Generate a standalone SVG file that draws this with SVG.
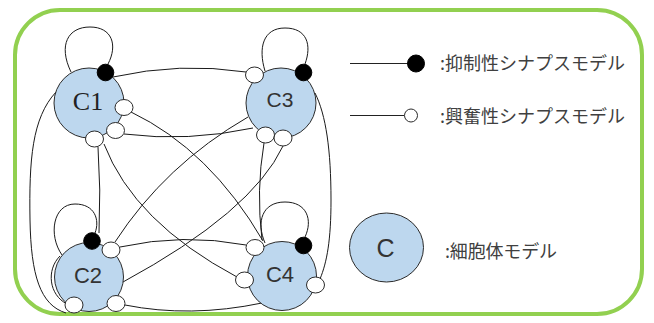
<svg xmlns="http://www.w3.org/2000/svg" width="654" height="323" viewBox="0 0 654 323">
  <style>
    .frame { fill: #ffffff; stroke: #92d050; stroke-width: 4; }
    .wire { fill: none; stroke: #1a1a1a; stroke-width: 1; }
    .soma { fill: #bdd7ee; stroke: #2b2b2b; stroke-width: 1; }
    .exc { fill: #ffffff; stroke: #2b2b2b; stroke-width: 1; }
    .inh { fill: #000000; stroke: #000000; stroke-width: 1; }
    .lbl { font-family: "Liberation Sans", Arial, sans-serif; fill: #333333; text-anchor: middle; }
    .lbl-serif { font-family: "Liberation Serif", "Times New Roman", serif; fill: #222222; text-anchor: middle; }
    .note { font-family: "Noto Sans CJK JP", "Noto Sans", sans-serif; font-size: 18px; fill: #404040; }
    .key { stroke: #222222; stroke-width: 1.2; fill: none; }
  </style>

  <rect class="frame" x="15" y="10" width="627" height="304" rx="45" ry="45"/>

  <!-- connections between cells, drawn beneath the cell bodies -->
  <g id="connectors">
    <!-- self loops (onto each inhibitory synapse) -->
    <path class="wire" d="M71,72 C58,45 68,27 90,27 C112,27 118,45 108,64"/>
    <path class="wire" d="M265,71 C258,48 263,28 285,28 C307,28 312,45 305,64"/>
    <path class="wire" d="M62,255 C48,235 53,204 75,204 C95,204 100,220 95,233"/>
    <path class="wire" d="M265,243 C256,222 262,202 285,202 C307,202 313,220 305,237"/>

    <!-- C1 -> C3 (top arc) -->
    <path class="wire" d="M113,77 Q180,62 246,72"/>
    <!-- C3 -> C1 (lower arc) -->
    <path class="wire" d="M124,134 Q188,142 253,128"/>
    <!-- C2 -> C4 (upper arc) -->
    <path class="wire" d="M120,247 Q183,233 246,245"/>
    <!-- C4 -> C2 (bottom arc) -->
    <path class="wire" d="M125,305 Q190,318 262,303"/>
    <!-- C2 -> C1 (vertical) -->
    <path class="wire" d="M98,147 Q101,190 99,233"/>
    <!-- C4 -> C3 (vertical) -->
    <path class="wire" d="M264,143 Q256,190 262,240"/>
    <!-- diagonals -->
    <path class="wire" d="M131,112 Q210,150 263,241"/>
    <path class="wire" d="M104,144 Q134,222 237,277"/>
    <path class="wire" d="M248,117 Q165,165 115,242"/>
    <path class="wire" d="M123,282 Q252,212 283,146"/>
    <!-- outer left: C1 -> C2 -->
    <path class="wire" d="M56,92 C32,118 29,160 30,220 C31,275 40,305 66,313"/>
    <path class="wire" d="M60,256 C46,270 49,295 67,304"/>
    <!-- outer right: C3 -> C4 -->
    <path class="wire" d="M315,93 C326,115 331,150 331,200 C331,240 327,262 320,279"/>
  </g>

  <g id="C1">
    <circle class="soma" cx="89" cy="103" r="35"/>
    <text class="lbl-serif" x="88" y="110" font-size="26">C1</text>
    <circle class="inh" cx="105.5" cy="72.5" r="8.3"/>
    <ellipse class="exc" cx="124" cy="107.5" rx="9" ry="8"/>
    <ellipse class="exc" cx="115.5" cy="130.5" rx="9" ry="8"/>
    <ellipse class="exc" cx="94.5" cy="139" rx="9" ry="8"/>
  </g>

  <g id="C3">
    <circle class="soma" cx="281" cy="103" r="35"/>
    <text class="lbl" x="280" y="107" font-size="21">C3</text>
    <ellipse class="exc" cx="254.5" cy="75" rx="9" ry="8"/>
    <circle class="inh" cx="303.5" cy="72.5" r="8.3"/>
    <ellipse class="exc" cx="265.5" cy="135" rx="9" ry="8"/>
    <ellipse class="exc" cx="283" cy="138" rx="9" ry="8"/>
  </g>

  <g id="C2">
    <circle class="soma" cx="89" cy="277" r="34.5"/>
    <text class="lbl" x="88" y="283" font-size="22">C2</text>
    <circle class="inh" cx="92" cy="241" r="8.3"/>
    <ellipse class="exc" cx="111" cy="250" rx="9" ry="8"/>
    <ellipse class="exc" cx="74" cy="305" rx="9" ry="8"/>
    <ellipse class="exc" cx="116" cy="303.5" rx="9" ry="8"/>
  </g>

  <g id="C4">
    <circle class="soma" cx="282" cy="276" r="34.5"/>
    <text class="lbl" x="280" y="282" font-size="22">C4</text>
    <ellipse class="exc" cx="255" cy="247.5" rx="9" ry="8"/>
    <circle class="inh" cx="303.5" cy="245.5" r="8.3"/>
    <ellipse class="exc" cx="244.5" cy="280" rx="9" ry="8"/>
    <ellipse class="exc" cx="315.5" cy="285" rx="9" ry="8"/>
  </g>

  <!-- key -->
  <g id="key-inhibitory">
    <line class="key" x1="350" y1="63.5" x2="410" y2="63.5"/>
    <circle class="inh" cx="416" cy="63.5" r="8.5"/>
    <text class="note" x="440" y="70" textLength="185" lengthAdjust="spacing">:抑制性シナプスモデル</text>
  </g>
  <g id="key-excitatory">
    <line class="key" x1="350" y1="115.5" x2="404.5" y2="115.5"/>
    <circle class="exc" cx="411" cy="115.5" r="6.5" stroke-width="1.2"/>
    <text class="note" x="440" y="123" textLength="185" lengthAdjust="spacing">:興奮性シナプスモデル</text>
  </g>
  <g id="key-soma">
    <ellipse class="soma" cx="386.5" cy="247.5" rx="37" ry="34.5"/>
    <text class="lbl" x="385.5" y="257" font-size="25">C</text>
    <text class="note" x="445" y="258" textLength="112" lengthAdjust="spacing">:細胞体モデル</text>
  </g>
</svg>
